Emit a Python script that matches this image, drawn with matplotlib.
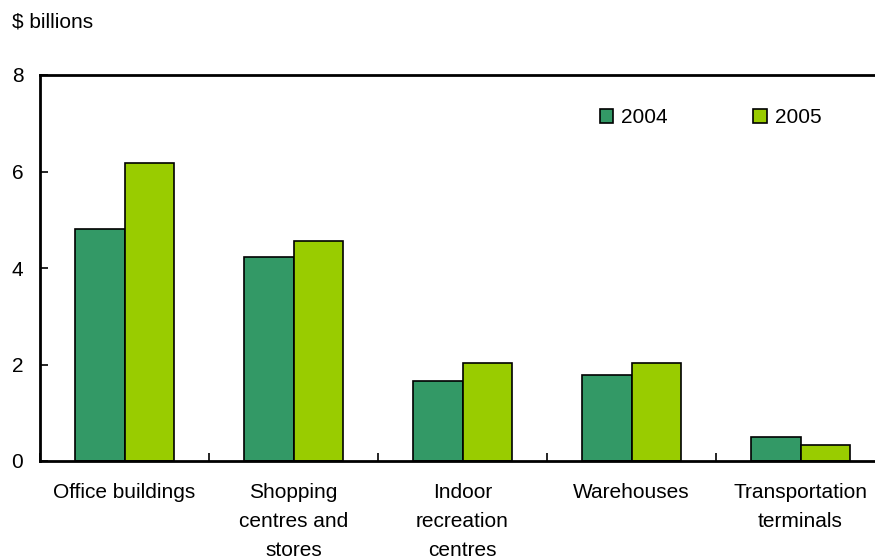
import numpy as np
import matplotlib
matplotlib.use("Agg")
import matplotlib.pyplot as plt
from matplotlib.patches import Patch

plt.rcParams['font.family'] = ['Liberation Sans', 'DejaVu Sans']

# Data
categories = ["Office buildings", "Shopping\ncentres and\nstores", "Indoor\nrecreation\ncentres",
              "Warehouses", "Transportation\nterminals"]
years = ["2004", "2005"]
values_2004 = [4.81, 4.22, 1.65, 1.78, 0.50]
values_2005 = [6.18, 4.56, 2.03, 2.03, 0.33]
colors = ["#339966", "#99cc00"]

fs = 15

fig = plt.figure(figsize=(8.75, 5.6), dpi=100)
# axis runs slightly past the right edge of the figure, as in the original
ax = fig.add_axes([40 / 875, 1 - 461 / 560, 845 / 875, 386 / 560])

x = np.arange(len(categories))
w = 0.29
ax.bar(x - w / 2, values_2004, w, color=colors[0], edgecolor="black", linewidth=1.2, label=years[0])
ax.bar(x + w / 2, values_2005, w, color=colors[1], edgecolor="black", linewidth=1.2, label=years[1])

ax.set_xlim(-0.5, len(categories) - 0.5)
ax.set_ylim(0, 8)
ax.set_yticks([0, 2, 4, 6, 8])
ax.tick_params(axis="y", direction="in", length=6, width=1.2, pad=12, labelsize=fs)

# category labels centred, ticks between categories
ax.set_xticks(x)
ax.set_xticklabels(categories, fontsize=fs, linespacing=1.65, va="top")
ax.tick_params(axis="x", which="major", length=0, pad=16)
ax.set_xticks(np.arange(len(categories) + 1) - 0.5, minor=True)
ax.tick_params(axis="x", which="minor", direction="in", length=6, width=1.2)

for side in ["left", "bottom", "top"]:
    ax.spines[side].set_linewidth(2)
ax.spines["right"].set_visible(False)

handles = [Patch(facecolor=c, edgecolor="black", linewidth=1.2) for c in colors]
ax.legend(handles, years, ncol=2, frameon=False, fontsize=fs,
          loc="upper left", bbox_to_anchor=(0.64, 0.962),
          handlelength=0.65, handleheight=0.65, handletextpad=0.4, columnspacing=4.1)

fig.text(12 / 875, 1 - 22 / 560, "$ billions", fontsize=fs, va="center", ha="left")

fig.savefig("out.png", dpi=100)
